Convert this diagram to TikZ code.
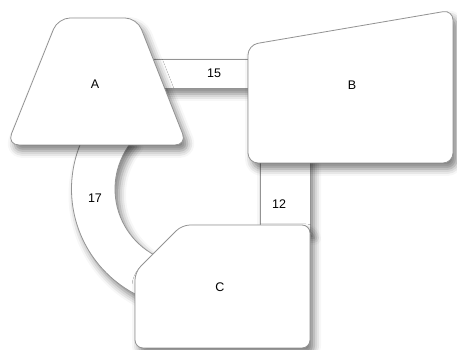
\documentclass[tikz,border=0pt]{standalone}
\usepackage{fontspec}
\setmainfont{Liberation Sans}
\usetikzlibrary{shadows.blur}

\begin{document}
\begin{tikzpicture}[
  x=1pt,y=1pt,
  shd/.style={blur shadow={shadow xshift=4pt,shadow yshift=-6pt,shadow blur radius=7pt,shadow opacity=50}},
  blob/.style={draw=gray!85,fill=white,line width=0.8pt,shd},
  band/.style={draw=gray!85,fill=white,line width=0.8pt,shd},
  every node/.style={font=\fontsize{12.5}{14}\selectfont}]
  \useasboundingbox (0,0) rectangle (457,350);
  % band ends, tucked under the boxes
  \coordinate (ctr) at (190,161);
  \coordinate (ab1) at (150,291);
  \coordinate (ab2) at (255,262);
  \coordinate (bc1) at (260,195);
  \coordinate (bc2) at (310,118);
  % bands
  \draw[band] (ab1) rectangle (ab2);
  \draw[band] (bc1) rectangle (bc2);
  \draw[band] ([shift={(140:118.5)}]ctr) arc[start angle=140,end angle=250,radius=118.5]
    -- ([shift={(250:75)}]ctr) arc[start angle=250,end angle=140,radius=75] -- cycle;
  % boxes
  \draw[blob,rounded corners=12pt] (58,332) -- (137,332) -- (187,205) -- (7,205) -- cycle;
  \draw[blob,rounded corners=10pt] (248,305) -- (453,340) -- (453,187) -- (248,187) -- cycle;
  \draw[blob,rounded corners=8pt] (182,125) -- (310,125) -- (310,2) -- (135,2) -- (135,78) -- cycle;
  % labels
  \node (A) at (95,266) {A};
  \node (B) at (352,265) {B};
  \node (C) at (220,63) {C};
  \node (n15) at (214,277) {15};
  \node (n17) at (95,152) {17};
  \node (n12) at (279,146) {12};
\end{tikzpicture}
\end{document}
